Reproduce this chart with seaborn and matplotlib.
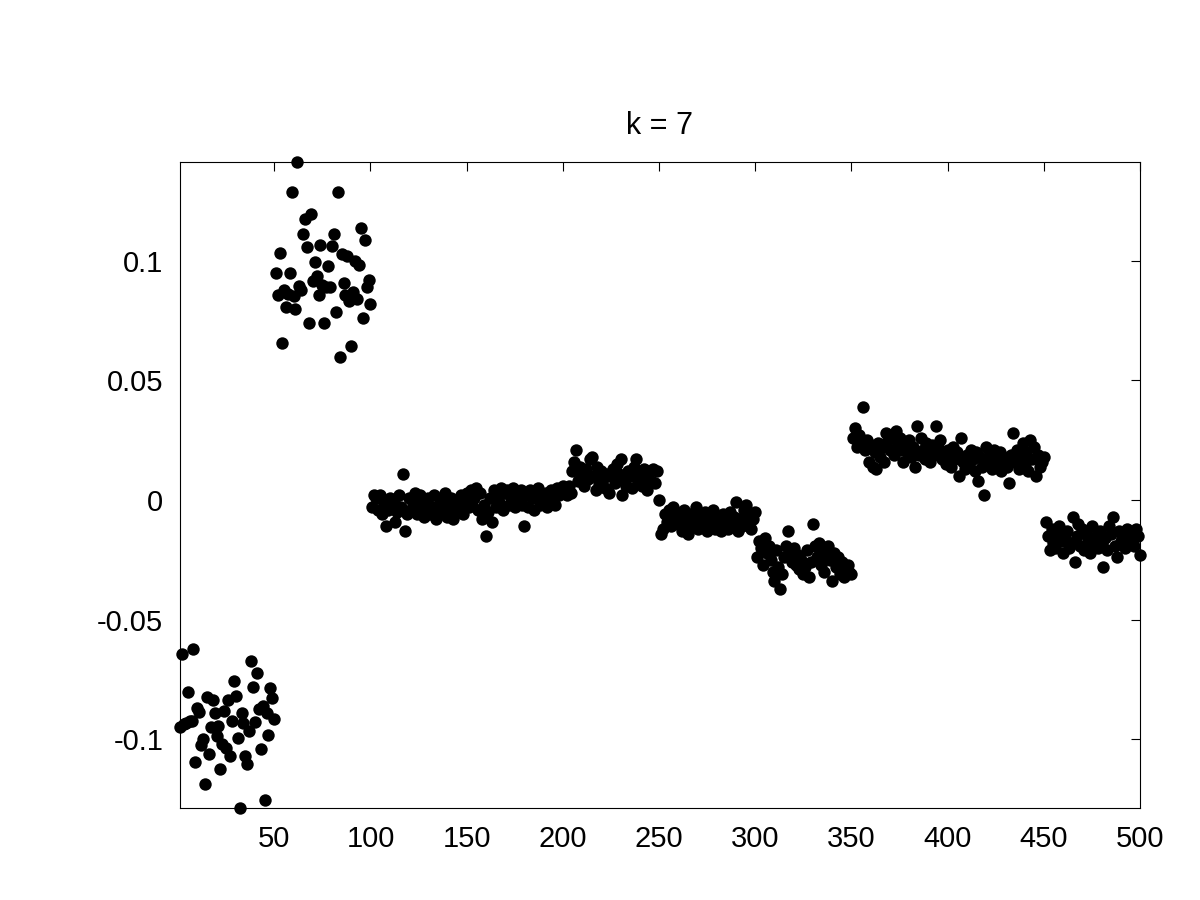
import numpy as np
import pandas as pd
import matplotlib
matplotlib.use("Agg")
import matplotlib.pyplot as plt
import seaborn as sns
from matplotlib.ticker import FuncFormatter

# values, one list per block of samples
block_1_50 = [
    -0.0947, -0.0645, -0.0935, -0.0930, -0.0801, -0.0925, -0.0922, -0.0624, -0.1093, -0.0868,
    -0.0886, -0.1025, -0.1000, -0.1185, -0.0823, -0.1060, -0.0950, -0.0837, -0.0891, -0.0986,
    -0.0944, -0.1125, -0.1021, -0.0882, -0.1035, -0.0836, -0.1070, -0.0924, -0.0755, -0.0819,
    -0.0993, -0.1289, -0.0889, -0.0933, -0.1070, -0.1104, -0.0965, -0.0671, -0.0782, -0.0928,
    -0.0724, -0.0872, -0.1039, -0.0861, -0.1252, -0.0891, -0.0983, -0.0787, -0.0826, -0.0916,
]
block_51_100 = [
    0.0949, 0.0855, 0.1032, 0.0656, 0.0879, 0.0809, 0.0862, 0.0949, 0.1289, 0.0851,
    0.0798, 0.1412, 0.0893, 0.0880, 0.1111, 0.1174, 0.1057, 0.0741, 0.1196, 0.0914,
    0.0995, 0.0937, 0.0858, 0.1064, 0.0900, 0.0741, 0.0889, 0.0980, 0.0889, 0.1061,
    0.1111, 0.0786, 0.1289, 0.0600, 0.1028, 0.0907, 0.0855, 0.1022, 0.0830, 0.0645,
    0.0870, 0.1000, 0.0841, 0.0983, 0.1137, 0.0761, 0.1085, 0.0890, 0.0918, 0.0820,
]
block_101_200 = [
    -0.003, 0.002, 0.001, -0.004, 0.002, -0.006, -0.002, -0.011, -0.004, 0.001,
    -0.003, 0.000, -0.009, -0.005, 0.002, -0.003, 0.011, -0.013, -0.006, 0.001,
    -0.004, -0.002, 0.003, -0.006, -0.001, 0.002, -0.005, -0.007, -0.002, 0.001,
    -0.006, -0.003, 0.002, -0.008, -0.004, 0.000, -0.005, -0.002, 0.003, -0.007,
    -0.003, 0.001, -0.008, -0.005, 0.000, -0.004, 0.002, -0.006, -0.001, 0.003,
    -0.003, 0.004, -0.002, 0.001, 0.005, -0.004, 0.003, -0.008, -0.002, -0.015,
    -0.005, 0.001, -0.009, 0.004, -0.003, 0.002, -0.001, 0.005, -0.004, 0.003,
    0.004, -0.002, 0.001, 0.005, -0.003, 0.003, 0.000, 0.004, -0.002, -0.011,
    0.002, -0.003, 0.004, 0.001, -0.004, 0.003, 0.005, -0.002, 0.002, -0.001,
    0.003, -0.003, 0.001, 0.004, 0.000, -0.002, 0.005, 0.002, 0.003, 0.006,
]
block_201_250 = [
    0.004, 0.002, 0.006, 0.003, 0.012, 0.016, 0.021, 0.008, 0.014, 0.011,
    0.006, 0.013, 0.009, 0.017, 0.018, 0.010, 0.004, 0.014, 0.007, 0.012,
    0.009, 0.005, 0.011, 0.003, 0.010, 0.013, 0.007, 0.015, 0.011, 0.017,
    0.002, 0.009, 0.006, 0.012, 0.010, 0.005, 0.014, 0.017, 0.008, 0.011,
    0.006, 0.013, 0.009, 0.004, 0.012, 0.008, 0.013, 0.007, 0.012, 0.000,
]
block_251_300 = [
    -0.014, -0.012, -0.006, -0.009, -0.004, -0.011, -0.003, -0.008, -0.005, -0.010,
    -0.007, -0.013, -0.004, -0.009, -0.014, -0.006, -0.011, -0.008, -0.003, -0.012,
    -0.009, -0.006, -0.011, -0.005, -0.013, -0.008, -0.010, -0.004, -0.012, -0.007,
    -0.009, -0.013, -0.006, -0.011, -0.008, -0.012, -0.005, -0.010, -0.007, -0.001,
    -0.013, -0.008, -0.011, -0.004, -0.002, -0.009, -0.006, -0.012, -0.008, -0.005,
]
block_301_350 = [
    -0.024, -0.017, -0.020, -0.027, -0.016, -0.022, -0.019, -0.025, -0.030, -0.034,
    -0.021, -0.028, -0.037, -0.031, -0.024, -0.019, -0.013, -0.022, -0.026, -0.020,
    -0.027, -0.023, -0.029, -0.025, -0.031, -0.028, -0.021, -0.032, -0.026, -0.010,
    -0.019, -0.024, -0.018, -0.027, -0.021, -0.030, -0.023, -0.019, -0.025, -0.034,
    -0.022, -0.028, -0.024, -0.031, -0.026, -0.032, -0.029, -0.027, -0.030, -0.031,
]
block_351_450 = [
    0.026, 0.030, 0.022, 0.027, 0.024, 0.039, 0.021, 0.025, 0.016, 0.023,
    0.014, 0.020, 0.013, 0.024, 0.018, 0.022, 0.016, 0.028, 0.025, 0.021,
    0.027, 0.019, 0.029, 0.023, 0.026, 0.021, 0.016, 0.024, 0.020, 0.025,
    0.018, 0.022, 0.014, 0.031, 0.019, 0.026, 0.021, 0.017, 0.024, 0.020,
    0.016, 0.023, 0.019, 0.031, 0.022, 0.025, 0.017, 0.020, 0.015, 0.021,
    0.018, 0.014, 0.022, 0.017, 0.020, 0.010, 0.026, 0.016, 0.013, 0.019,
    0.015, 0.021, 0.017, 0.012, 0.020, 0.008, 0.018, 0.014, 0.002, 0.022,
    0.016, 0.019, 0.013, 0.021, 0.017, 0.015, 0.020, 0.012, 0.018, 0.016,
    0.014, 0.007, 0.019, 0.028, 0.016, 0.021, 0.013, 0.018, 0.024, 0.015,
    0.020, 0.012, 0.025, 0.017, 0.022, 0.010, 0.019, 0.014, 0.016, 0.018,
]
block_451_500 = [
    -0.009, -0.015, -0.021, -0.012, -0.018, -0.020, -0.014, -0.011, -0.017, -0.022,
    -0.016, -0.013, -0.020, -0.018, -0.007, -0.026, -0.015, -0.010, -0.019, -0.012,
    -0.021, -0.014, -0.017, -0.022, -0.011, -0.019, -0.015, -0.020, -0.013, -0.018,
    -0.028, -0.016, -0.021, -0.011, -0.014, -0.007, -0.019, -0.024, -0.013, -0.017,
    -0.015, -0.020, -0.012, -0.016, -0.018, -0.014, -0.019, -0.012, -0.015, -0.023,
]

x_ticks = [50, 100, 150, 200, 250, 300, 350, 400, 450, 500]
y_ticks = [-0.1, -0.05, 0, 0.05, 0.1]

values = (block_1_50 + block_51_100 + block_101_200 + block_201_250
          + block_251_300 + block_301_350 + block_351_450 + block_451_500)
df = pd.DataFrame({"index": np.arange(1, len(values) + 1), "value": values})

sns.set_style("white")
plt.rcParams["font.family"] = ["Liberation Sans", "DejaVu Sans"]
plt.rcParams["axes.unicode_minus"] = False

fig = plt.figure(figsize=(12, 9), dpi=100)
ax = fig.add_axes([0.15, 0.102, 0.80, 0.718])

sns.scatterplot(data=df, x="index", y="value", ax=ax, color="black",
                s=80, edgecolor="black", linewidth=0, clip_on=False, zorder=3)

ax.set_xlim(1, 500)
ax.set_ylim(-0.1288, 0.1413)
ax.set_xticks(x_ticks)
ax.set_yticks(y_ticks)
ax.yaxis.set_major_formatter(FuncFormatter(lambda v, pos: "%g" % v))
ax.set_xlabel("")
ax.set_ylabel("")
ax.tick_params(direction="in", length=6.5, width=0.8, labelsize=21,
               top=True, right=True, colors="black")
ax.tick_params(axis="x", pad=12)
ax.tick_params(axis="y", pad=12)
for sp in ax.spines.values():
    sp.set_linewidth(0.8)
    sp.set_color("black")

ax.set_title("k = 7", fontsize=22, pad=20, color="black")

fig.savefig("out.png", dpi=100)
